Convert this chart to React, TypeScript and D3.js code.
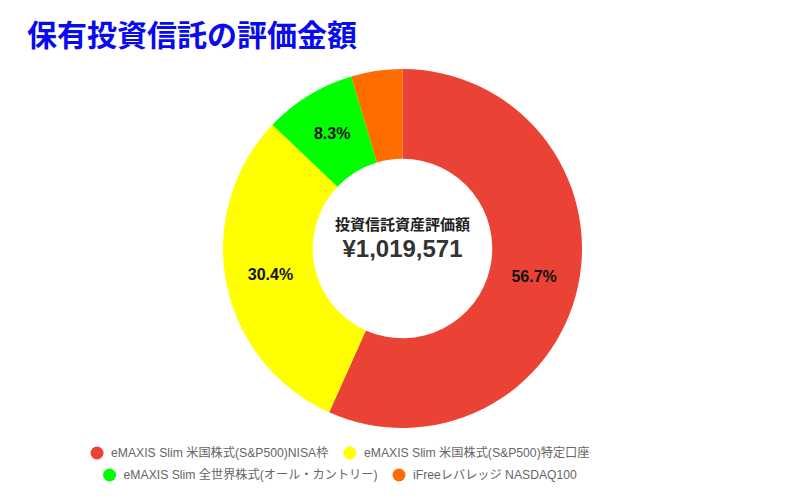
import React, { useEffect, useRef } from "react";
import * as d3 from "d3";

const categories = [
  "eMAXIS Slim 米国株式(S&P500)NISA枠",
  "eMAXIS Slim 米国株式(S&P500)特定口座",
  "eMAXIS Slim 全世界株式(オール・カントリー)",
  "iFreeレバレッジ NASDAQ100",
];
const values = [578100, 309900, 84600, 46971];
const colors = ["#ea4335", "#ffff00", "#00ff00", "#ff6d01"];
const legendRows = [[0, 1], [2, 3]];
const titleText = "保有投資信託の評価金額";
const centerLabel = "投資信託資産評価額";

const W = 802;
const H = 502;
const FONT = "'Liberation Sans', Arial, 'Noto Sans CJK JP', sans-serif";

export default function App() {
  const legendRef = useRef<SVGGElement | null>(null);
  const total = d3.sum(values);
  const cx = 402.5;
  const cy = 248.5;
  const R = 179.5;
  const r = R * 0.5;
  const pie = d3.pie<number>().sort(null).value((d) => d);
  const arcs = pie(values);
  const arc = d3.arc<d3.PieArcDatum<number>>().innerRadius(r).outerRadius(R);
  const fmt = d3.format(",");

  useEffect(() => {
    const g = d3.select(legendRef.current);
    g.selectAll("*").remove();
    const centerX = 340;
    const rowY = [453, 475];
    const gap = 15;
    const textOff = 14;
    const rad = 6.5;
    legendRows.forEach((row, ri) => {
      const items = row.map((i) => {
        const it = g.append("g");
        it.append("circle").attr("r", rad).attr("fill", colors[i]);
        const t = it
          .append("text")
          .attr("x", textOff)
          .attr("dy", "0.35em")
          .attr("font-size", 12.2)
          .attr("font-family", FONT)
          .attr("fill", "#666")
          .text(categories[i]);
        const w = rad + textOff + (t.node() as SVGTextElement).getComputedTextLength();
        return { it, w };
      });
      const totalW = d3.sum(items, (d) => d.w) + gap * (items.length - 1);
      let x = centerX - totalW / 2;
      items.forEach(({ it, w }) => {
        it.attr("transform", `translate(${x + rad},${rowY[ri]})`);
        x += w + gap;
      });
    });
  }, []);

  return (
    <svg
      width={W}
      height={H}
      style={{ position: "absolute", left: 0, top: 0, background: "#fff" }}
    >
      <text
        x={27}
        y={46}
        fontSize={30}
        fontWeight="bold"
        fill="#0a0aee"
        fontFamily="'Noto Sans CJK JP', sans-serif"
      >
        {titleText}
      </text>
      <g transform={`translate(${cx},${cy})`}>
        {arcs.map((a, i) => (
          <path key={i} d={arc(a) || ""} fill={colors[i]} />
        ))}
        {arcs.map((a, i) => {
          const pct = (a.data / total) * 100;
          if (pct < 5) return null;
          const [x, y] = arc.centroid(a);
          return (
            <text
              key={"l" + i}
              x={x}
              y={y}
              dy="0.35em"
              textAnchor="middle"
              fontSize={16}
              fontWeight="bold"
              fontFamily={FONT}
              fill="#111"
            >
              {pct.toFixed(1) + "%"}
            </text>
          );
        })}
        <text
          y={-24}
          dy="0.35em"
          textAnchor="middle"
          fontSize={15}
          fontWeight="bold"
          fontFamily="'Noto Sans CJK JP', sans-serif"
          fill="#222"
        >
          {centerLabel}
        </text>
        <text
          y={0}
          dy="0.35em"
          textAnchor="middle"
          fontSize={24}
          fontWeight="bold"
          fontFamily={FONT}
          fill="#333"
        >
          {"¥" + fmt(total)}
        </text>
      </g>
      <g ref={legendRef} />
    </svg>
  );
}
